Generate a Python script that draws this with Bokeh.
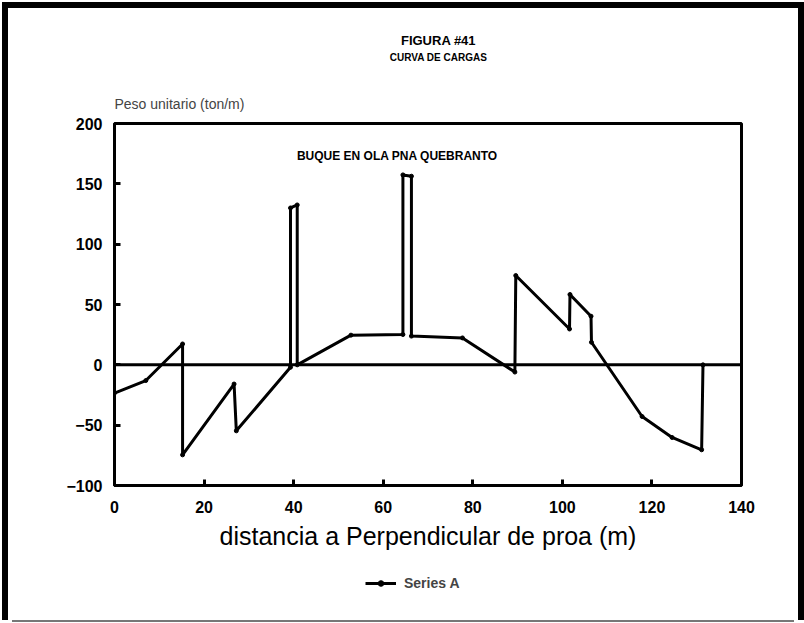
from bokeh.plotting import figure
from bokeh.layouts import column
from bokeh.models import (Range1d, FixedTicker, Span, Label, Legend, LegendItem,
                          ColumnDataSource, Title)
from bokeh.embed import file_html
from bokeh.resources import INLINE

# ---- data ----
x_dist = [0.0, 7.0, 15.2, 15.2, 26.7, 27.2, 39.3, 39.3, 40.8, 40.8, 52.8, 64.4,
          64.4, 66.3, 66.3, 77.7, 89.4, 89.6, 101.6, 101.7, 106.4, 106.5,
          117.8, 124.5, 131.1, 131.4]
y_peso = [-23.4, -13.0, 17.3, -74.6, -15.9, -54.7, -2.0, 130.0, 132.5, 0.0, 24.6, 25.1,
          157.4, 156.3, 23.8, 22.3, -6.0, 74.0, 29.7, 58.3, 40.3, 18.7,
          -42.8, -60.2, -70.4, 0.0]
x_ticks = [0, 20, 40, 60, 80, 100, 120, 140]
y_ticks = [-100, -50, 0, 50, 100, 150, 200]

title1 = "FIGURA #41"
title2 = "CURVA DE CARGAS"
y_title = "Peso unitario (ton/m)"
x_title = "distancia a Perpendicular de proa (m)"
note = "BUQUE EN OLA PNA QUEBRANTO"
series_name = "Series A"

FONT = "Liberation Sans"
W = 790

# ---- header strip with the two title lines ----
ph = figure(width=W, height=78, output_backend="svg", toolbar_location=None,
            x_range=Range1d(0, 1), y_range=Range1d(0, 1),
            x_axis_location=None, y_axis_location=None, min_border=0)
ph.grid.visible = False
ph.outline_line_color = None
ph.border_fill_alpha = 0
ph.background_fill_alpha = 0
ph.styles = {"box-shadow": "inset 0 6px 0 0 black", "background-color": "white"}
for txt, yy, fs in ((title1, 40, "13px"), (title2, 23, "10px")):
    ph.add_layout(Label(x=324, y=yy, x_units="screen", y_units="screen", text=txt,
                        text_font=FONT, text_font_size=fs, text_font_style="bold",
                        text_align="center", text_baseline="middle", text_color="black"))

# ---- main chart ----
p = figure(width=W, height=485, output_backend="svg", toolbar_location=None,
           x_range=Range1d(0, 140), y_range=Range1d(-100, 200),
           min_border_left=106, min_border_right=57, min_border_top=43,
           min_border_bottom=80)
p.grid.visible = False
p.outline_line_color = "black"
p.outline_line_width = 3
p.background_fill_color = "white"
p.border_fill_color = "white"

for ax in (p.xaxis[0], p.yaxis[0]):
    ax.axis_line_width = 3
    ax.axis_line_color = "black"
    ax.major_tick_line_width = 3
    ax.major_tick_in = 6
    ax.major_tick_out = 0
    ax.minor_tick_line_color = None
    ax.major_label_text_font = FONT
    ax.major_label_text_font_style = "bold"
    ax.major_label_text_font_size = "16px"
    ax.major_label_text_color = "black"
p.yaxis[0].major_label_standoff = 12
p.xaxis[0].major_label_standoff = 15

p.xaxis[0].ticker = FixedTicker(ticks=x_ticks)
p.yaxis[0].ticker = FixedTicker(ticks=y_ticks)
p.xaxis[0].axis_label = x_title
p.xaxis[0].axis_label_text_font = FONT
p.xaxis[0].axis_label_text_font_style = "normal"
p.xaxis[0].axis_label_text_font_size = "25px"
p.xaxis[0].axis_label_text_color = "black"
p.xaxis[0].axis_label_standoff = 6

p.add_layout(Span(location=0, dimension="width", line_color="black", line_width=3))

src = ColumnDataSource(dict(x=x_dist, y=y_peso))
p.line("x", "y", source=src, line_color="black", line_width=3)
p.scatter("x", "y", source=src, size=4, color="black")

p.add_layout(Label(x=283, y=330, x_units="screen", y_units="screen", text=note,
                   text_font=FONT, text_font_size="12px", text_font_style="bold",
                   text_align="center", text_baseline="middle", text_color="black"))

p.add_layout(Title(text=y_title, align="left", text_font=FONT, text_font_size="14px",
                   text_font_style="normal", standoff=23), "above")

# ---- legend strip (its series is drawn outside its view; only the key shows) ----
pl = figure(width=W, height=55, output_backend="svg", toolbar_location=None,
            x_range=Range1d(0, 140), y_range=Range1d(1000, 1001),
            x_axis_location=None, y_axis_location=None, min_border=0)
pl.grid.visible = False
pl.outline_line_color = None
pl.border_fill_color = "white"
lr = pl.line("x", "y", source=src, line_color="black", line_width=3)
ls = pl.scatter("x", "y", source=src, size=4, color="black")
legend = Legend(items=[LegendItem(label=series_name, renderers=[lr, ls])],
                location=(251, 29), orientation="horizontal",
                glyph_width=31, glyph_height=14, label_standoff=8,
                padding=0, margin=0, spacing=0,
                border_line_color=None, background_fill_alpha=0,
                label_text_font=FONT, label_text_font_style="bold",
                label_text_font_size="14px")
pl.add_layout(legend)

layout = column(ph, p, pl, spacing=0)
layout.styles = {"margin-left": "8px", "margin-top": "2px",
                 "box-shadow": "-6px 0 0 0 black, 6px 0 0 0 black, 0 6px 0 -4px #777"}

open("out.html", "w").write(file_html(layout, INLINE))
